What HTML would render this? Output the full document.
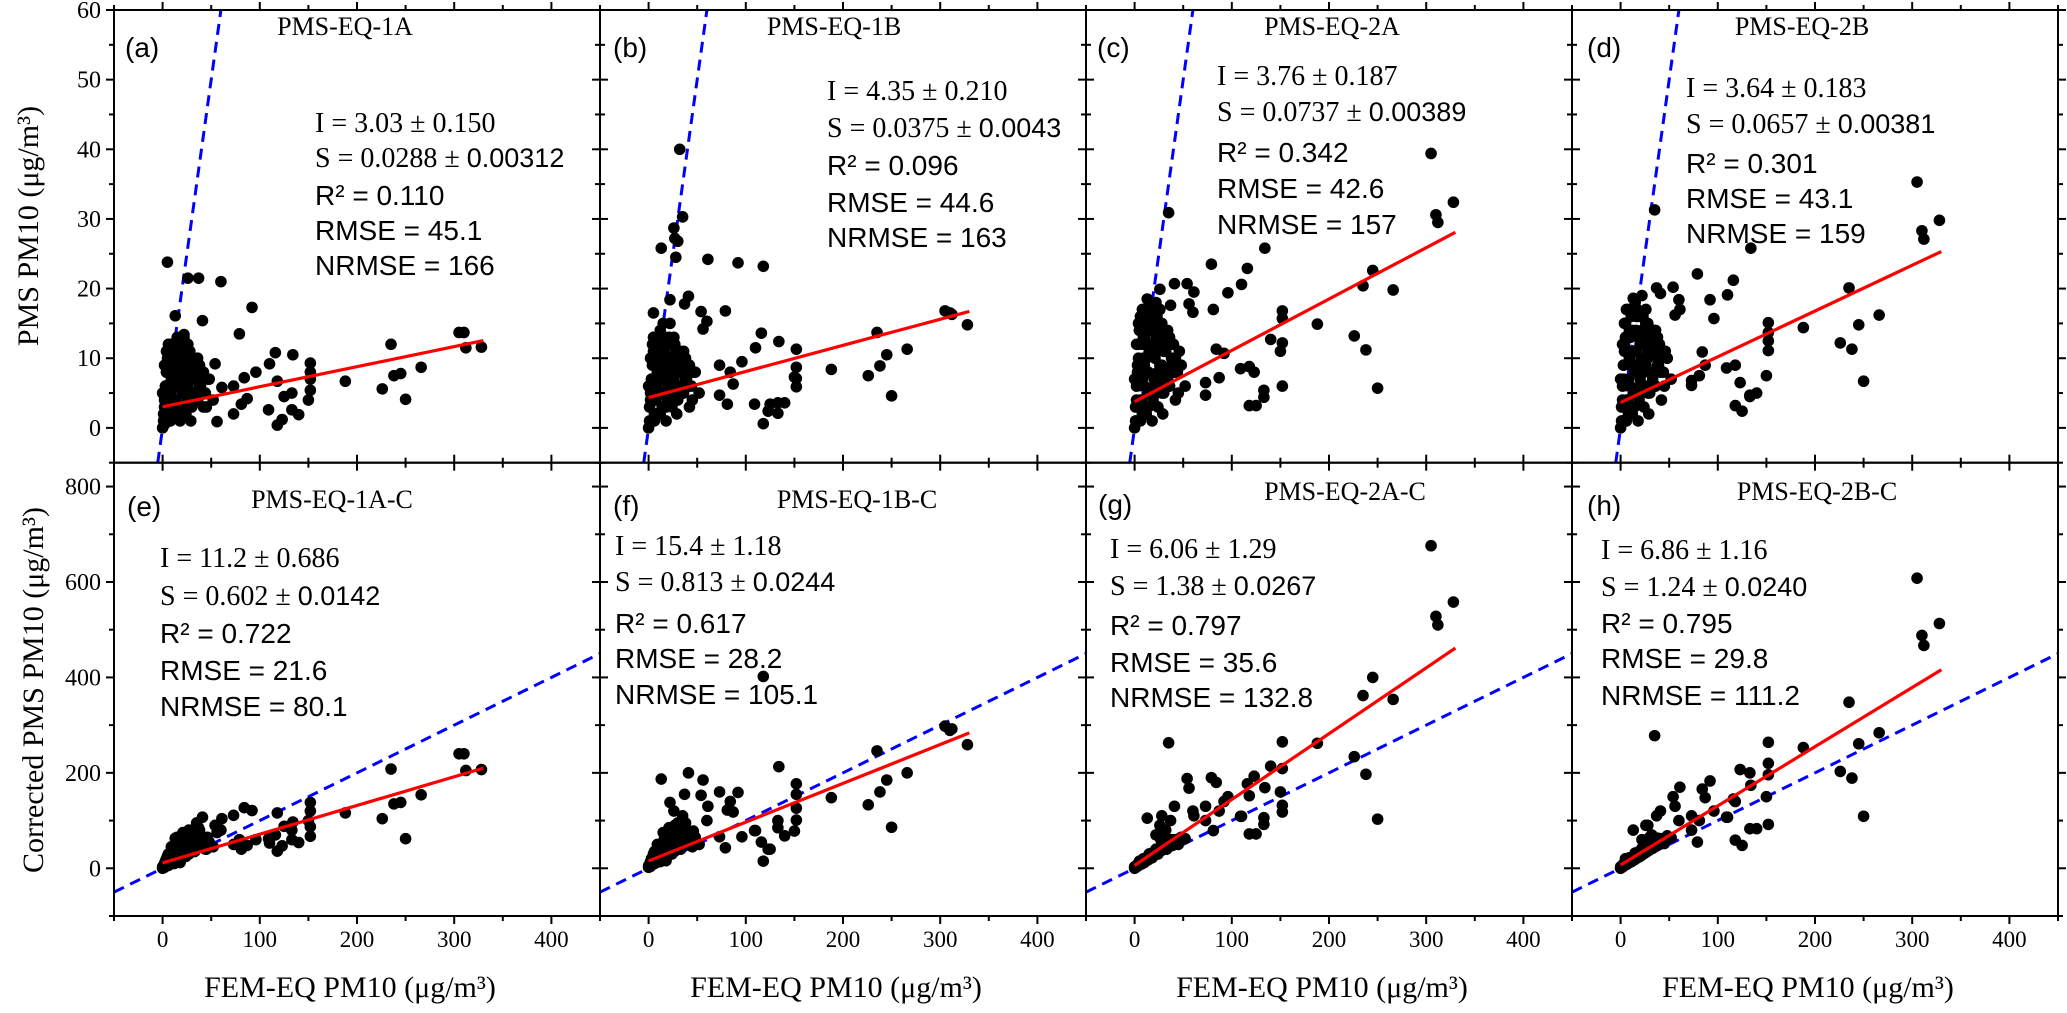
<!DOCTYPE html>
<html><head><meta charset="utf-8"><title>PMS vs FEM PM10 scatter panels</title>
<style>
html,body{margin:0;padding:0;background:#fff;}
svg{display:block;}
.serif{font-family:"Liberation Serif","Times New Roman",serif;}
.sans{font-family:"Liberation Sans",Arial,sans-serif;}
</style></head>
<body>
<svg id="chart" xmlns="http://www.w3.org/2000/svg" width="2067" height="1013" viewBox="0 0 2067 1013"></svg>
<script>
// ---- data ----
const panelIds = ["a","b","c","d","e","f","g","h"];
const panelTitles = ["PMS-EQ-1A","PMS-EQ-1B","PMS-EQ-2A","PMS-EQ-2B","PMS-EQ-1A-C","PMS-EQ-1B-C","PMS-EQ-2A-C","PMS-EQ-2B-C"];
const fitI = [3.03, 4.35, 3.76, 3.64, 11.2, 15.4, 6.06, 6.86];
const fitS = [0.0288, 0.0375, 0.0737, 0.0657, 0.602, 0.813, 1.38, 1.24];
const statI = ["3.03 ± 0.150","4.35 ± 0.210","3.76 ± 0.187","3.64 ± 0.183","11.2 ± 0.686","15.4 ± 1.18","6.06 ± 1.29","6.86 ± 1.16"];
const statS1 = ["0.0288 ± ","0.0375 ± ","0.0737 ± ","0.0657 ± ","0.602 ± ","0.813 ± ","1.38 ± ","1.24 ± "];
const statS2 = ["0.00312","0.0043","0.00389","0.00381","0.0142","0.0244","0.0267","0.0240"];
const statR2 = ["0.110","0.096","0.342","0.301","0.722","0.617","0.797","0.795"];
const statRMSE = ["45.1","44.6","42.6","43.1","21.6","28.2","35.6","29.8"];
const statNRMSE = ["166","163","157","159","80.1","105.1","132.8","111.2"];
const fitXMax = 330;

const femX = [305,310,312,328,235,238,245,250,226,266,188,152,152,152,152,134,116,110,125,133,133,140,118,123,109,96,84,92,79,87,81,73,73,61,54,56,41,60,37,26,5,13,22,118,150,32,35,27,30,28];
const pmsA = [13.7,13.7,11.5,11.6,12,7.5,7.8,4.1,5.6,8.7,6.7,9.3,8,7,5.4,10.5,10.8,9.2,4.5,5,2.6,1.9,0.4,1.2,2.6,8,7.2,17.3,13.5,4.2,3.4,2,6,5.8,9.2,0.9,15.4,21,21.5,21.5,23.8,16.1,13.4,6.7,4,9,8,10,7,11];
const pmsB = [16.8,16.5,16.3,14.8,13.7,8.9,10.5,4.6,7.5,11.3,8.4,11.3,8.7,7.1,5.9,12.4,13.6,11.5,3.4,3.6,2.1,3.6,0.6,2.4,3.4,9.5,8,23.7,16.8,6.3,3.4,9,4.7,24.2,16.7,14.2,18.9,15.3,17.8,28.7,16.5,25.8,18.4,23.2,7.3,40,30.3,27.2,26.8,24.5];
const pmsC = [39.4,30.6,29.5,32.4,20.4,11.2,22.6,5.7,13.2,19.8,14.9,16.8,15.7,12.2,6,25.8,22.9,20.6,3.2,5.4,4.4,12.7,3.2,8,8.5,19.4,11.3,10.7,23.5,7.2,17,6.5,4.7,19.5,20.7,17.8,20.7,16.6,17.6,19.9,14,18.5,16,8.8,11,14,30.9,15,13,12];
const pmsD = [35.3,28.3,27.1,29.8,20.1,11.3,14.8,6.7,12.2,16.2,14.4,15.1,13.7,12.5,11.1,25.8,21.2,19.1,2.4,4.7,4.5,5,3.2,6.5,8.6,15.7,10.9,18.4,22.1,9,7.5,6.1,6.8,17,20.2,16.2,19.3,18.4,20.1,15,13,18.6,14,9,7.5,13,31.3,14,12,11];
const corE = [240,240,205,207,208,135,138,62,104,154,116,138,120,87,67,97,70,53,88,80,60,54,36,47,62,60,127,121,60,48,40,50,111,104,90,75,107,80,85,70,25,63,40,116,100,60,95,55,50,75];
const corF = [298,289,292,259,246,160,185,86,133,200,148,177,155,126,101,213,55,79,40,85,100,68,15,40,79,66,140,159,43,118,122,160,66,130,153,185,200,100,155,120,25,187,138,402,78,90,110,80,95,70];
const corG = [676,528,510,558,362,197,400,103,234,354,262,265,209,132,118,169,177,109,72,106,92,214,72,193,109,150,180,140,190,120,79,130,100,110,188,168,130,120,100,90,15,105,70,152,160,80,263,60,70,110];
const corH = [608,488,467,513,348,189,261,109,203,284,253,264,220,196,92,174,145,107,48,83,200,83,59,207,107,120,166,183,55,148,100,110,80,170,150,130,120,100,110,90,20,80,60,140,150,70,278,55,65,90];

const clumpX = [1,2,3,4,5,6,8,10,12,14,16,18,20,22,24,26,28,30,33,36,39,42,45,48,52,3,6,9,12,15,18,21,24,27,30,34,38,2,8,14];
const clumpA = [1,3,5,8,11,2,9,4,12,6,10,3,8,13,5,11,7,9,4,10,6,8,3,7,4,6,12,10,7,13,9,12,6,11,8,5,9,0.5,1,2];
const clumpB = [1,4,6,9,13,2,11,5,14,7,12,3,9,15,6,12,8,10,5,11,7,9,4,8,5,7,13,11,8,15,10,13,7,12,9,6,10,1,2,3];
const clumpC = [1,4,7,10,14,3,12,6,16,8,15,5,11,18,7,14,9,12,6,13,8,10,5,9,6,8,16,13,10,18,12,15,8,14,11,7,12,1,2,3];
const clumpD = [1,4,7,11,15,3,13,6,17,9,16,5,12,19,8,15,10,13,7,14,9,11,6,10,7,9,17,14,11,18,13,16,9,15,12,8,13,1,2,3];
const clumpE = [3,8,12,20,25,10,30,15,45,25,55,20,40,70,30,60,45,55,35,70,50,60,40,55,45,15,30,45,40,65,50,75,45,80,60,55,80,2,10,20];
const clumpF = [5,10,15,22,30,12,35,20,50,30,60,25,45,80,35,70,50,60,40,80,55,70,45,65,50,18,35,50,45,75,55,85,55,90,70,60,95,4,12,25];
const clumpG = [2,4,6,8,10,8,14,12,20,18,26,22,30,40,30,42,38,45,40,55,48,60,50,65,62,8,14,20,22,30,32,36,38,45,48,52,60,3,10,18];
const clumpH = [2,4,6,9,11,9,15,13,22,19,28,24,32,42,32,45,40,48,42,58,50,62,52,68,64,9,15,22,24,32,34,38,40,48,50,55,63,3,11,19];

const clump2X = [0,1,2,3,4,5,6,7,8,9,10,11,12,13,14,15,16,17,18,19,20,21,22,23,24,25,26,27,28,29,30,31,32,34,36,38,40,42,44,46,0,2,4,6,8,10,12,14,16,18,20,22,24,26,28,30,32,35,38,41];
const clump2A = [0,2,4,6,8,10,1,3,5,7,9,11,2,4,6,8,10,12,1,3,5,7,9,11,2,4,6,8,10,1,3,5,7,9,4,6,8,3,5,7,5,9,11,3,12,7,10,2,8,11,5,9,6,12,3,8,10,4,7,5];
const clump2B = [0,3,5,7,9,11,1,4,6,8,10,12,2,5,7,9,11,13,1,4,6,8,10,12,3,5,7,9,11,2,4,6,8,10,5,7,9,3,6,8,6,10,12,4,13,8,11,3,9,12,6,10,7,13,4,9,11,5,8,6];
const clump2C = [0,3,6,9,12,15,1,4,7,10,13,16,2,5,8,11,14,17,1,4,7,10,13,16,3,6,9,12,15,2,5,8,11,14,6,9,12,4,8,11,7,12,15,4,17,9,14,3,11,16,6,12,8,17,5,11,14,6,10,8];
const clump2D = [0,3,6,9,12,15,1,4,7,10,13,16,2,5,8,11,14,17,1,4,7,10,13,16,3,6,9,12,15,2,5,8,11,14,6,9,12,4,8,11,7,12,15,4,17,9,14,3,11,16,6,12,8,17,5,11,14,6,10,8];
const clump2E = [0,5,10,15,8,20,6,18,12,25,15,30,10,22,35,18,40,28,12,35,22,45,30,50,25,38,55,30,45,60,35,50,65,40,55,45,60,50,40,65,3,8,14,20,28,18,35,25,45,30,50,40,55,45,65,50,70,55,60,50];
const clump2F = [2,8,14,20,12,25,10,22,16,30,20,38,14,28,42,24,48,34,16,42,28,55,36,60,30,46,65,36,54,72,42,60,78,48,66,54,72,60,48,78,5,12,18,26,34,24,42,32,54,38,60,48,66,54,78,60,84,66,72,60];
const clump2G = [0,2,4,5,6,7,9,10,11,12,14,15,16,17,19,20,22,23,24,26,27,28,30,31,33,34,35,37,38,40,41,42,44,46,49,52,54,57,60,62,3,5,7,10,13,15,18,20,23,26,28,32,34,37,40,43,45,50,54,58];
const clump2H = [0,2,3,5,6,7,8,10,11,12,13,14,15,17,18,19,21,22,23,24,25,27,28,30,31,32,34,35,36,38,39,40,42,44,46,49,52,54,57,60,3,5,7,9,12,14,17,19,22,24,27,30,32,35,38,40,43,47,51,55];

const topYTicks = [0,10,20,30,40,50,60];
const botYTicks = [0,200,400,600,800];
const xTicks = [0,100,200,300,400];

const pointsY = [pmsA,pmsB,pmsC,pmsD,corE,corF,corG,corH];
const clumpY = [clumpA,clumpB,clumpC,clumpD,clumpE,clumpF,clumpG,clumpH];
const clump2Y = [clump2A,clump2B,clump2C,clump2D,clump2E,clump2F,clump2G,clump2H];

// ---- layout (not data) ----
const NS = "http://www.w3.org/2000/svg";
const svg = document.getElementById("chart");
const PW = 486, X0 = 114;
const rows = [{top:10,bottom:462.7,min:-5,max:60,minorStep:5,ticks:topYTicks},
              {top:462.7,bottom:916,min:-100,max:850,minorStep:100,ticks:botYTicks}];
const xMin=-50, xMax=450;
const textX = [201,227,131,114,46,15,24,29];
const textY = [[132,167,205,240,275],[100,137,175,212,247],[85,121,162,198,234],[97,133,173,208,243],
               [567,605,643,680,716],[555,591,633,668,704],[558,595,635,672,707],[559,596,633,668,705]];
const titlePos = [[231,35],[234,35],[246,35],[230,35],[218,508],[257,508],[259,500],[245,500]];
const labelPos = [[11,57],[13,57],[11,57],[15,57],[13,516],[13,515],[12,514],[15,515]];

function el(tag, attrs, parent){
  const e = document.createElementNS(NS, tag);
  for (const k in attrs) e.setAttribute(k, attrs[k]);
  (parent||svg).appendChild(e);
  return e;
}

const defs = el("defs",{});
for (let p=0;p<8;p++){
  const col=p%4,row=Math.floor(p/4),R=rows[row];
  const cp = el("clipPath",{id:"clip"+p},defs);
  el("rect",{x:X0+col*PW,y:R.top,width:PW,height:R.bottom-R.top},cp);
}

for (let p=0;p<8;p++){
  const col=p%4,row=Math.floor(p/4),R=rows[row];
  const left = X0+col*PW, right=left+PW;
  const sx = v => left + (v-xMin)/(xMax-xMin)*PW;
  const sy = v => R.bottom - (v-R.min)/(R.max-R.min)*(R.bottom-R.top);
  const g = el("g",{});
  
  

  const plot = el("g",{"clip-path":"url(#clip"+p+")"},g);
  const lo = Math.max(xMin,R.min), hi = Math.min(xMax,R.max);
  const oneToOne = el("line",{x1:sx(lo),y1:sy(lo),x2:sx(hi),y2:sy(hi),stroke:"#0000ff","stroke-width":3,"stroke-dasharray":"11,7"},plot);
  
  
  const pts = el("g",{fill:"#000"},plot);
  
  
  const cy = clumpY[p];
  for (let i=0;i<clumpX.length;i++){
    const c = el("circle",{cx:sx(clumpX[i]),cy:sy(cy[i]),r:5.8},pts);
    
    
  }
  const cy2 = clump2Y[p];
  for (let i=0;i<clump2X.length;i++){
    const c = el("circle",{cx:sx(clump2X[i]),cy:sy(cy2[i]),r:5.8},pts);
    
    
  }
  const ys = pointsY[p];
  for (let i=0;i<femX.length;i++){
    const c = el("circle",{cx:sx(femX[i]),cy:sy(ys[i]),r:5.8},pts);
    
    
  }
  const fit = el("line",{x1:sx(0),y1:sy(fitI[p]),x2:sx(fitXMax),y2:sy(fitI[p]+fitS[p]*fitXMax),stroke:"#ff0000","stroke-width":3.2},plot);
  
  

  const frame = el("rect",{x:left,y:R.top,width:PW,height:R.bottom-R.top,fill:"none",stroke:"#000","stroke-width":2},g);
  
  
  const tk = el("g",{stroke:"#000","stroke-width":2},g);
  
  
  for (let v=-50; v<=450; v+=50){
    const L = (v%100===0)?8:5, x=sx(v);
    el("line",{x1:x,y1:R.bottom,x2:x,y2:R.bottom+L},tk);
    el("line",{x1:x,y1:R.top,x2:x,y2:R.top-L},tk);
  }
  const majorY = row===0?10:200;
  for (let v=Math.ceil(R.min/R.minorStep)*R.minorStep; v<=R.max; v+=R.minorStep){
    const L = (v%majorY===0)?8:5, y=sy(v);
    el("line",{x1:left,y1:y,x2:left-L,y2:y},tk);
    el("line",{x1:right,y1:y,x2:right+L,y2:y},tk);
  }
  if (col===0){
    for (const v of R.ticks){
      const t = el("text",{x:101,y:sy(v)+8,"text-anchor":"end","font-size":24,class:"serif"});
      t.textContent = v;
      
      
    }
  }
  if (row===1){
    for (const v of xTicks){
      const t = el("text",{x:sx(v),y:947,"text-anchor":"middle","font-size":23,class:"serif"});
      t.textContent = v;
      
      
    }
    const xt = el("text",{x:left+236,y:997,"text-anchor":"middle","font-size":30,class:"serif"});
    xt.textContent = "FEM-EQ PM10 (μg/m³)";
    
    
  }
  const tt = el("text",{x:left+titlePos[p][0],y:titlePos[p][1],"text-anchor":"middle","font-size":26,class:"serif"});
  tt.textContent = panelTitles[p];
  
  
  const lb = el("text",{x:left+labelPos[p][0],y:labelPos[p][1],"font-size":28,class:"sans"});
  lb.textContent = "("+panelIds[p]+")";
  
  
  const tx = left+textX[p], ty=textY[p];
  const st = el("g",{},g);
  
  
  const l1 = el("text",{x:tx,y:ty[0],"font-size":28,class:"serif"},st);
  l1.textContent = "I = "+statI[p];
  const l2 = el("text",{x:tx,y:ty[1],"font-size":28,class:"serif"},st);
  l2.textContent = "S = "+statS1[p];
  const l2b = el("tspan",{class:"sans","font-size":27},l2);
  l2b.textContent = statS2[p];
  const l3 = el("text",{x:tx,y:ty[2],"font-size":28,class:"sans"},st);
  l3.textContent = "R² = "+statR2[p];
  const l4 = el("text",{x:tx,y:ty[3],"font-size":28,class:"sans"},st);
  l4.textContent = "RMSE = "+statRMSE[p];
  const l5 = el("text",{x:tx,y:ty[4],"font-size":28,class:"sans"},st);
  l5.textContent = "NRMSE = "+statNRMSE[p];
}

const yt1 = el("text",{x:0,y:0,transform:"translate(38,226) rotate(-90)","text-anchor":"middle","font-size":30,class:"serif"});
yt1.textContent = "PMS PM10 (μg/m³)";


const yt2 = el("text",{x:0,y:0,transform:"translate(43,690) rotate(-90)","text-anchor":"middle","font-size":30,class:"serif"});
yt2.textContent = "Corrected PMS PM10 (μg/m³)";


</script>
</body></html>
